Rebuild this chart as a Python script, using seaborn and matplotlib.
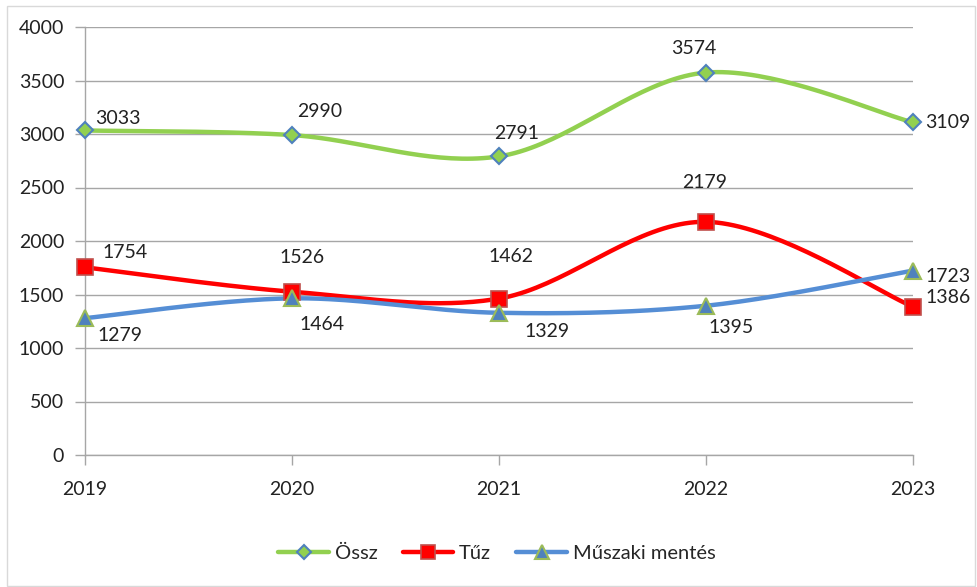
import numpy as np
import pandas as pd
import matplotlib
matplotlib.use("Agg")
import matplotlib.pyplot as plt
import seaborn as sns
from matplotlib.lines import Line2D
from matplotlib.patches import Rectangle

years = [2019, 2020, 2021, 2022, 2023]
ossz = [3033, 2990, 2791, 3574, 3109]
tuz = [1754, 1526, 1462, 2179, 1386]
muszaki = [1279, 1464, 1329, 1395, 1723]
series_names = ["Össz", "Tűz", "Műszaki mentés"]


def smooth(xs, ys, n=40):
    # Excel-like smoothed line (Catmull-Rom bezier through the points)
    p = np.column_stack([xs, ys]).astype(float)
    pts = np.vstack([p[0], p, p[-1]])
    out = []
    t = np.linspace(0, 1, n)[:, None]
    for i in range(1, len(pts) - 2):
        p0, p1, p2, p3 = pts[i - 1], pts[i], pts[i + 1], pts[i + 2]
        c1 = p1 + (p2 - p0) / 6
        c2 = p2 - (p3 - p1) / 6
        seg = ((1 - t) ** 3) * p1 + 3 * ((1 - t) ** 2) * t * c1 + 3 * (1 - t) * t ** 2 * c2 + t ** 3 * p2
        out.append(seg if i == 1 else seg[1:])
    out = np.vstack(out)
    return out[:, 0], out[:, 1]


sns.set_theme(style="white")
plt.rcParams["font.family"] = ["Lato", "DejaVu Sans"]

fig = plt.figure(figsize=(9.78, 5.87), dpi=100)
ax = fig.add_axes([85 / 978, 1 - 455 / 587, (913 - 85) / 978, (455 - 27) / 587])

styles = [
    dict(color="#92D050", marker="D", mfc="#92D050", mec="#4F81BD", ms=8, mew=1.5),
    dict(color="#FF0000", marker="s", mfc="#FF0000", mec="#C0504D", ms=12, mew=1.2),
    dict(color="#558ED5", marker="^", mfc="#4F81BD", mec="#9BBB59", ms=12, mew=1.5),
]
data = [ossz, tuz, muszaki]

# label offsets in pixels for each point (dx, dy); last point is left-aligned
offsets = [
    [(33, 12), (28, 24), (18, 23), (-12, 24), (12, 0)],
    [(40, 15), (10, 34), (12, 42), (-1, 39), (12, 9)],
    [(35, -17), (30, -26), (48, -19), (25, -22), (12, -6)],
]

handles = []
for name, vals, st, offs in zip(series_names, data, styles, offsets):
    sx, sy = smooth(years, vals)
    df = pd.DataFrame({"x": sx, "y": sy})
    sns.lineplot(data=df, x="x", y="y", ax=ax, color=st["color"], lw=3.2,
                 sort=False, estimator=None, zorder=3)
    ax.plot(years, vals, ls="none", marker=st["marker"], mfc=st["mfc"],
            mec=st["mec"], ms=st["ms"], mew=st["mew"], zorder=4, clip_on=False)
    for i, (x, v, (dx, dy)) in enumerate(zip(years, vals, offs)):
        ha = "left" if i == len(years) - 1 else "center"
        ax.annotate(str(v), (x, v), xytext=(dx, dy), textcoords="offset pixels",
                    ha=ha, va="center", fontsize=14, color="#222222", zorder=5,
                    annotation_clip=False)
    handles.append(Line2D([], [], color=st["color"], lw=3.2, marker=st["marker"],
                          mfc=st["mfc"], mec=st["mec"], ms=st["ms"] * 0.85, mew=st["mew"]))

ax.set_xlim(2019, 2023)
ax.set_ylim(0, 4000)
ax.set_xticks(years)
ax.set_xticklabels([str(y) for y in years])
ax.set_yticks(range(0, 4001, 500))
ax.set_xlabel("")
ax.set_ylabel("")
ax.grid(axis="y", color="#A6A6A6", lw=1)
ax.grid(axis="x", visible=False)
ax.set_axisbelow(True)
for s in ["top", "right"]:
    ax.spines[s].set_visible(False)
for s in ["left", "bottom"]:
    ax.spines[s].set_color("#A6A6A6")
    ax.spines[s].set_linewidth(1)
ax.tick_params(axis="both", which="both", length=7, width=1, color="#A6A6A6",
               labelsize=14, labelcolor="#222222", direction="out",
               left=True, bottom=True)
ax.tick_params(axis="y", pad=8)
ax.tick_params(axis="x", pad=12)

fig.legend(handles, series_names, loc="center", bbox_to_anchor=(497 / 978, 1 - 553 / 587),
           ncol=3, frameon=False, fontsize=14.5, handlelength=2.5, columnspacing=1.25,
           handletextpad=0.3)

fig.patches.append(Rectangle((7 / 978, 1 / 587), 968 / 978, 580 / 587, transform=fig.transFigure,
                             fill=False, ec="#D9D9D9", lw=1))

fig.savefig("out.png", dpi=100, facecolor="white")
